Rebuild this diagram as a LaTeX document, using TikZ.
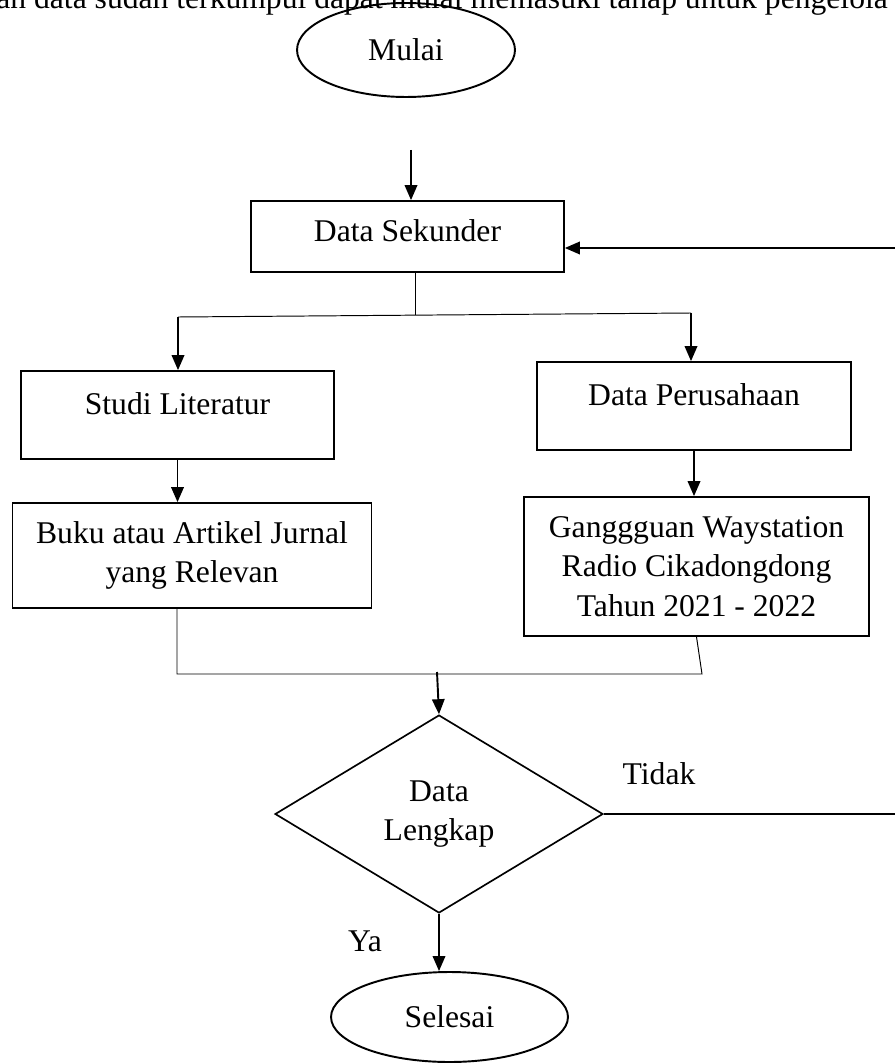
\documentclass[tikz,border=0pt]{standalone}
\usepackage{fontspec}
\setmainfont{Liberation Serif}
\usetikzlibrary{arrows.meta, shapes.geometric, positioning}

\begin{document}
\begin{tikzpicture}[x=0.02cm, y=-0.02cm,
    every node/.style={font=\fontsize{18}{22.5}\selectfont},
    box/.style={rectangle, draw, line width=1pt, inner sep=0pt, align=center},
    term/.style={ellipse, draw, line width=1.1pt, inner sep=0pt},
    decision/.style={diamond, draw, line width=0.95pt, inner sep=0pt, align=center, aspect=1.66},
    arr/.style={line width=1.1pt, -{Triangle[length=0.3cm, width=0.25cm]}},
    link/.style={line width=0.55pt}]
    \useasboundingbox (0,0) rectangle (895,1064);

    % line of page text behind the picture
    \node[anchor=base west, inner sep=0pt] (pagetext) at (-4,9) {an data sudah terkumpul dapat mulai memasuki tahap untuk pengelola};

    \node[term, minimum width=4.36cm, minimum height=1.88cm] (mulai) at (406,50) {Mulai};
    \node[box, minimum width=6.26cm, minimum height=1.42cm, text height=0.42cm, text depth=0.22cm] (sekunder) at (407.5,236.5) {Data Sekunder};
    \node[box, minimum width=6.26cm, minimum height=1.76cm, text height=0.42cm, text depth=0.44cm] (studi) at (177.5,415) {Studi Literatur};
    \node[box, minimum width=6.28cm, minimum height=1.76cm, text height=0.42cm, text depth=0.44cm] (perusahaan) at (694,406) {Data Perusahaan};
    \node[box, minimum width=7.18cm, minimum height=2.10cm] (buku) at (192,555.5) {Buku atau Artikel Jurnal\\yang Relevan};
    \node[box, minimum width=6.90cm, minimum height=2.78cm] (gangguan) at (696.5,566.5) {Ganggguan Waystation\\Radio Cikadongdong\\Tahun 2021 - 2022};
    \node[decision, minimum width=6.56cm, minimum height=3.96cm] (lengkap) at (439,814) {Data\\Lengkap};
    \node[term, minimum width=4.74cm, minimum height=1.80cm] (selesai) at (449.5,1017) {Selesai};
    \node (tidak) at (659,774) {Tidak};
    \node (ya) at (365,941) {Ya};

    \coordinate (in) at (411,150);
    \coordinate (split) at (415,315);
    \coordinate (splitL) at (178,317);
    \coordinate (splitR) at (691,313);
    \coordinate (joinL) at (177,674);
    \coordinate (joinR) at (702,674);
    \coordinate (join) at (437,672);
    \coordinate (back) at (910,0);
    \coordinate (entry) at ([yshift=-0.23cm]sekunder.east);

    \draw[arr] (in) -- (in |- sekunder.north);
    \draw[link] (sekunder.south -| split) -- (split);
    \draw[link] (splitL) -- (splitR);
    \draw[arr] (splitL) -- (splitL |- studi.north);
    \draw[arr] (splitR) -- (splitR |- perusahaan.north);
    \draw[arr] (studi.south) -- (studi.south |- buku.north);
    \draw[arr] (perusahaan.south) -- (perusahaan.south |- gangguan.north);
    \draw[link] (joinL |- buku.south) -- (joinL) -- (joinR) -- (gangguan.south);
    \draw[arr] (join) -- (lengkap.north);
    \draw[arr] (lengkap.south) -- (lengkap.south |- selesai.north);
    \draw[arr] (lengkap.east) -- (lengkap.east -| back) -- (back |- entry) -- (entry);
\end{tikzpicture}
\end{document}
